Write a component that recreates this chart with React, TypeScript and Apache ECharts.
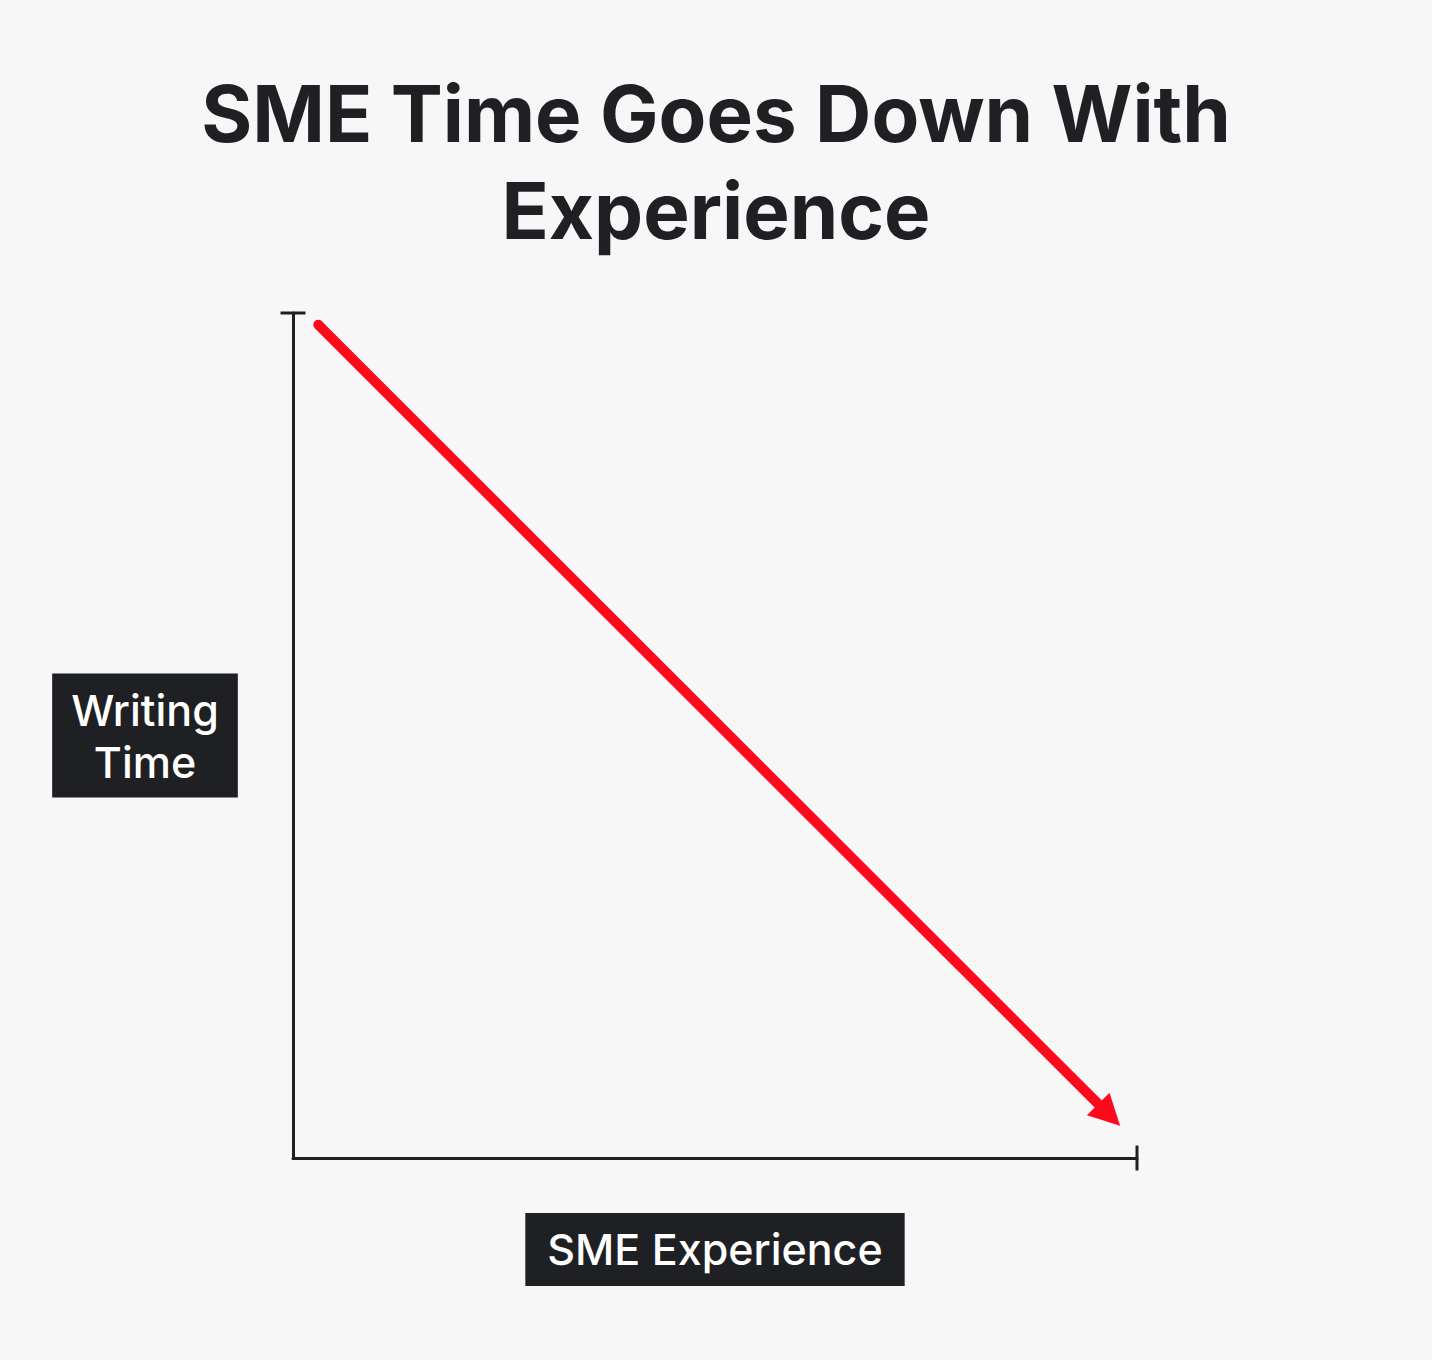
import React, { useEffect, useRef } from 'react';
import * as echarts from 'echarts';

const titleText = 'SME Time Goes Down With\nExperience';
const xAxisName = 'SME Experience';
const yAxisName = 'Writing\nTime';
// trend: experience (x) vs writing time (y), start and arrow head centre
const trendPoints = [
  [3, 98.6],
  [96.7, 5.1],
];

const DARK = '#1f2024';
const RED = '#fe0a1c';
const FONT = 'Inter, "Noto Sans", sans-serif';

const App = () => {
  const chartRef = useRef(null);

  useEffect(() => {
    const chart = echarts.init(chartRef.current, null, { renderer: 'svg' });

    chart.setOption({
      animation: false,
      backgroundColor: '#f7f7f8',
      title: {
        text: titleText,
        left: 'center',
        top: 60,
        textStyle: {
          fontFamily: FONT,
          fontSize: 78,
          fontWeight: 700,
          lineHeight: 97,
          color: DARK,
        },
      },
      grid: { left: 293, right: 295, top: 313, bottom: 202 },
      xAxis: {
        type: 'value',
        min: 0,
        max: 100,
        name: xAxisName,
        nameLocation: 'middle',
        nameGap: 55,
        nameTextStyle: {
          fontFamily: FONT,
          fontSize: 43,
          fontWeight: 500,
          color: '#fff',
          backgroundColor: DARK,
          padding: [10, 22, 11, 22],
          lineHeight: 52,
        },
        axisLine: {
          show: true,
          onZero: false,
          symbol: ['none', 'rect'],
          symbolSize: [25, 3],
          lineStyle: { color: DARK, width: 3 },
        },
        axisTick: { show: false },
        axisLabel: { show: false },
        splitLine: { show: false },
      },
      yAxis: {
        type: 'value',
        min: 0,
        max: 100,
        name: yAxisName,
        nameLocation: 'middle',
        nameRotate: 0,
        nameGap: 148,
        nameTextStyle: {
          fontFamily: FONT,
          fontSize: 43,
          fontWeight: 500,
          color: '#fff',
          backgroundColor: DARK,
          padding: [10, 19, 10, 19],
          lineHeight: 52,
          align: 'center',
        },
        axisLine: {
          show: true,
          onZero: false,
          symbol: ['none', 'rect'],
          symbolSize: [25, 3],
          lineStyle: { color: DARK, width: 3 },
        },
        axisTick: { show: false },
        axisLabel: { show: false },
        splitLine: { show: false },
      },
      series: [
        {
          type: 'line',
          data: trendPoints.map((p, i) =>
            i === trendPoints.length - 1
              ? { value: p, symbol: 'triangle', symbolSize: [32, 31], symbolRotate: -135 }
              : { value: p, symbol: 'none' }
          ),
          showSymbol: true,
          itemStyle: { color: RED },
          lineStyle: { color: RED, width: 10, cap: 'round' },
          silent: true,
        },
      ],
    });

    return () => {
      chart.dispose();
    };
  }, []);

  return (
    <div
      ref={chartRef}
      style={{ position: 'absolute', left: 0, top: 0, width: '1432px', height: '1360px' }}
    />
  );
};

export default App;
